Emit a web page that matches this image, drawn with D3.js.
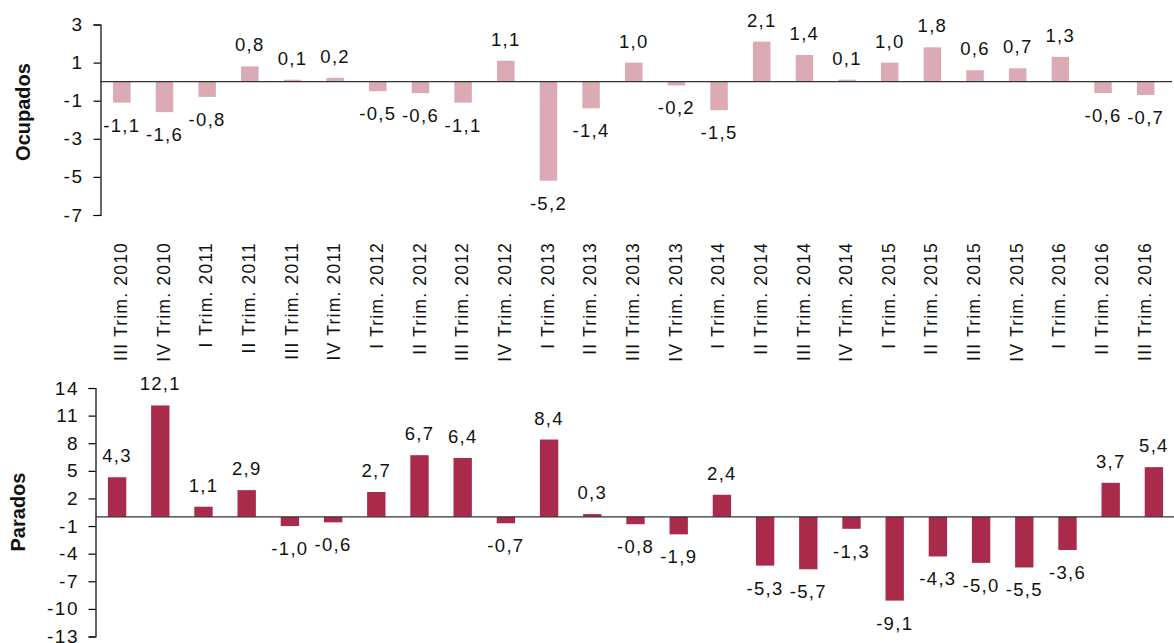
<!DOCTYPE html>
<html>
<head>
<meta charset="utf-8">
<script src="https://cdn.jsdelivr.net/npm/d3@7"></script>
<style>
  body { margin: 0; background: #fff; }
  svg { display: block; font-family: "Liberation Sans", Arial, sans-serif; }
</style>
</head>
<body>
<svg id="chart" width="1174" height="643"></svg>
<script>
const categories = [
  'III Trim. 2010', 'IV Trim. 2010',
  'I Trim. 2011', 'II Trim. 2011', 'III Trim. 2011', 'IV Trim. 2011',
  'I Trim. 2012', 'II Trim. 2012', 'III Trim. 2012', 'IV Trim. 2012',
  'I Trim. 2013', 'II Trim. 2013', 'III Trim. 2013', 'IV Trim. 2013',
  'I Trim. 2014', 'II Trim. 2014', 'III Trim. 2014', 'IV Trim. 2014',
  'I Trim. 2015', 'II Trim. 2015', 'III Trim. 2015', 'IV Trim. 2015',
  'I Trim. 2016', 'II Trim. 2016', 'III Trim. 2016'
];
const ocupados = [-1.1, -1.6, -0.8, 0.8, 0.1, 0.2, -0.5, -0.6, -1.1, 1.1, -5.2, -1.4, 1.0,
  -0.2, -1.5, 2.1, 1.4, 0.1, 1.0, 1.8, 0.6, 0.7, 1.3, -0.6, -0.7];
const parados = [4.3, 12.1, 1.1, 2.9, -1.0, -0.6, 2.7, 6.7, 6.4, -0.7, 8.4, 0.3, -0.8,
  -1.9, 2.4, -5.3, -5.7, -1.3, -9.1, -4.3, -5.0, -5.5, -3.6, 3.7, 5.4];
const ticksOcupados = [3, 1, -1, -3, -5, -7];
const ticksParados = [14, 11, 8, 5, 2, -1, -4, -7, -10, -13];

const svg = d3.select('#chart');
const fmt = v => v.toFixed(1).replace('.', ',');

// one panel = axis + zero line + bars + value labels
function panel(cfg) {
  const x = d3.scaleBand()
    .domain(categories)
    .range([cfg.left, cfg.right])
    .paddingInner(cfg.pad)
    .paddingOuter(cfg.pad / 2);
  const y = d3.scaleLinear()
    .domain(d3.extent(cfg.ticks))
    .range([cfg.bottom, cfg.top]);

  const g = svg.append('g');

  const axis = g.append('g')
    .attr('transform', 'translate(' + cfg.left + ',0)')
    .call(d3.axisLeft(y).tickValues(cfg.ticks).tickSize(7).tickSizeOuter(7)
      .tickPadding(cfg.tickPad).tickFormat(d => String(d)));
  axis.select('.domain').attr('stroke', '#000').attr('stroke-width', 1.2);
  axis.selectAll('.tick line').attr('stroke', '#000').attr('stroke-width', 1.2);
  axis.selectAll('.tick text')
    .attr('fill', '#111')
    .style('font-size', '19px')
    .style('letter-spacing', '1.5px');

  g.selectAll('rect.bar')
    .data(cfg.values)
    .enter().append('rect')
    .attr('class', 'bar')
    .attr('x', (d, i) => x(categories[i]))
    .attr('width', x.bandwidth())
    .attr('y', d => y(Math.max(0, d)))
    .attr('height', d => Math.abs(y(d) - y(0)))
    .attr('fill', cfg.color);

  g.append('line')
    .attr('x1', cfg.left).attr('x2', cfg.lineEnd)
    .attr('y1', y(0)).attr('y2', y(0))
    .attr('stroke', '#333').attr('stroke-width', 1.3);

  g.selectAll('text.val')
    .data(cfg.values)
    .enter().append('text')
    .attr('class', 'val')
    .attr('x', (d, i) => x(categories[i]) + x.bandwidth() / 2)
    .attr('y', d => d >= 0 ? y(d) - 15 : y(d) + 29)
    .attr('text-anchor', 'middle')
    .attr('fill', '#111')
    .style('font-size', '18.5px')
    .style('letter-spacing', '1.3px')
    .text(d => fmt(d));

  g.append('text')
    .attr('transform', 'translate(' + cfg.titleX + ',' + cfg.titleY + ') rotate(-90)')
    .attr('text-anchor', 'middle')
    .style('font-size', '20px')
    .style('font-weight', 'bold')
    .attr('fill', '#111')
    .text(cfg.title);

  return x;
}

const xTop = panel({
  values: ocupados, ticks: ticksOcupados, title: 'Ocupados',
  left: 100.5, right: 1167, lineEnd: 1172, top: 24.5, bottom: 215,
  pad: 0.59, color: '#dcaab5', tickPad: 10, titleX: 30, titleY: 112
});

panel({
  values: parados, ticks: ticksParados, title: 'Parados',
  left: 95.5, right: 1175.5, lineEnd: 1174, top: 388, bottom: 636.5,
  pad: 0.575, color: '#a92a4a', tickPad: 9.5, titleX: 25, titleY: 512
});

// category labels, vertical, between both panels
svg.append('g').selectAll('text')
  .data(categories)
  .enter().append('text')
  .attr('transform', d => 'translate(' + (xTop(d) + xTop.bandwidth() / 2 - 1) + ',242) rotate(-90)')
  .attr('dy', '0.35em')
  .attr('text-anchor', 'end')
  .attr('fill', '#111')
  .style('font-size', '17.5px')
  .style('letter-spacing', '1.2px')
  .text(d => d);
</script>
</body>
</html>
